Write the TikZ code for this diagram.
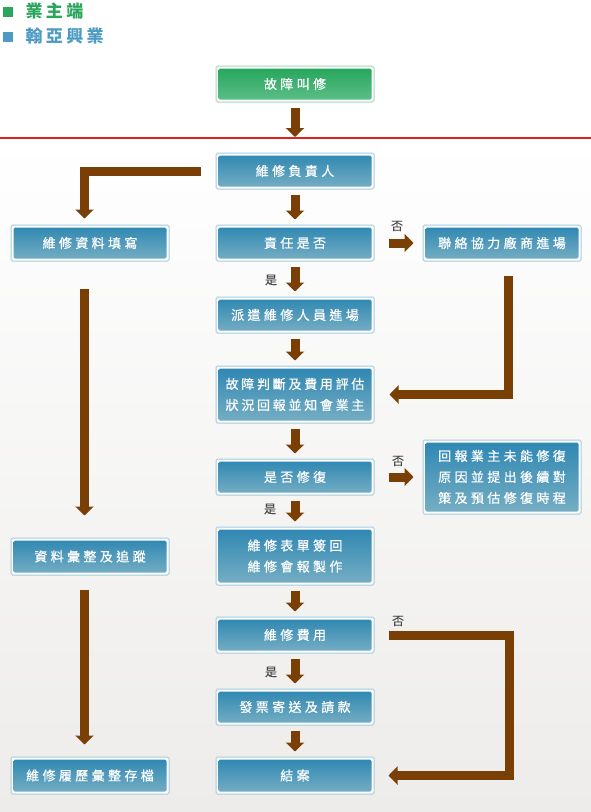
\documentclass[tikz,border=0pt]{standalone}
\usepackage{fontspec}
\newfontfamily\cjk[LetterSpace=26,FakeBold=0.6]{Noto Sans CJK TC}
\newfontfamily\cjknarrow[LetterSpace=21,FakeBold=0.6]{Noto Sans CJK TC}
\newfontfamily\cjkplain[FakeBold=0.3]{Noto Sans CJK TC}
\newfontfamily\cjkhead[LetterSpace=20]{Noto Sans CJK TC}
\usetikzlibrary{arrows.meta}
\definecolor{flowbrown}{HTML}{7A3F04}
\definecolor{ownergreen}{HTML}{2AA65C}
\definecolor{vendorblue}{HTML}{4D9BC2}
\definecolor{boxline}{HTML}{A3CCDE}
\definecolor{greenline}{HTML}{A6D9BA}
\definecolor{bluetop}{HTML}{2C86B2}
\definecolor{bluebot}{HTML}{78AFC4}
\definecolor{greentop}{HTML}{23A55A}
\definecolor{greenbot}{HTML}{5FC08A}
\definecolor{bgbot}{HTML}{EDECEA}
\definecolor{labelgray}{HTML}{4A4A4A}
\definecolor{cutred}{HTML}{E0221F}

\begin{document}
\begin{tikzpicture}[x=1pt, y=-1pt,
  frame/.style 2 args={line width=1pt, fill=white, rounded corners=1.5pt,
    minimum width=158pt, minimum height=36pt, inner sep=0pt, text=white,
    align=center, font=\cjk\fontsize{13}{21}\selectfont,
    path picture={\shade[top color=#1, bottom color=#2]
      ([shift={(2.5pt,-2.5pt)}]path picture bounding box.north west) rectangle
      ([shift={(-2.5pt,2.5pt)}]path picture bounding box.south east);}},
  bluebox/.style={frame={bluetop}{bluebot}, draw=boxline},
  greenbox/.style={frame={greentop}{greenbot}, draw=greenline},
  flow/.style={draw=flowbrown, line width=9pt, -{Triangle[width=18pt,length=9pt]},
    shorten <=5pt, shorten >=5pt},
  yesno/.style={text=labelgray, font=\cjkplain\fontsize{12}{12}\selectfont}]
\useasboundingbox (0,0) rectangle (591,812);
% background and cut line
\fill[white] (0,0) rectangle (591,137);
\shade[top color=white, bottom color=bgbot] (0,137) rectangle (591,812);
\draw[cutred, line width=2pt] (0,137.5) -- (591,137.5);
% legend
\fill[ownergreen] (3,7) rectangle (13,17);
\node[anchor=west, text=ownergreen, font=\cjkhead\bfseries\fontsize{17}{17}\selectfont] (ownerkey) at (22,11) {業主端};
\fill[vendorblue] (3,32) rectangle (13,42);
\node[anchor=west, text=vendorblue, font=\cjkhead\bfseries\fontsize{17}{17}\selectfont] (vendorkey) at (22,36) {翰亞興業};
% main column
\node[greenbox] (call) at (295,84) {故障叫修};
\coordinate (cut) at (295,137);
\node[bluebox] (head) at (295,171) {維修負責人};
\node[bluebox] (duty) at (295,243) {責任是否};
\node[bluebox] (dispatch) at (295,315) {派遣維修人員進場};
\node[bluebox, minimum height=57pt, font=\cjknarrow\fontsize{13}{21}\selectfont] (diag) at (295,394.5) {故障判斷及費用評估\\狀況回報並知會業主};
\node[bluebox] (fix) at (295,477) {是否修復};
\node[bluebox, minimum height=58pt] (sign) at (295,556) {維修表單簽回\\維修會報製作};
\node[bluebox] (cost) at (295,635) {維修費用};
\node[bluebox] (bill) at (295,707) {發票寄送及請款};
\node[bluebox, minimum height=37pt] (close) at (295,775.5) {結案};
% left column
\node[bluebox] (log) at (90,243) {維修資料填寫};
\node[bluebox, minimum height=37pt] (track) at (90,556.5) {資料彙整及追蹤};
\node[bluebox, minimum height=37pt] (archive) at (90,775.5) {維修履歷彙整存檔};
% right column
\node[bluebox] (vendor) at (502,243) {聯絡協力廠商進場};
\node[bluebox, minimum height=74pt] (report) at (502,477) {回報業主未能修復\\原因並提出後續對\\策及預估修復時程};
% main flow
\draw[flow, shorten >=0pt] (call) -- (cut);
\draw[flow] (head) -- (duty);
\draw[flow] (duty) -- (dispatch);
\draw[flow] (dispatch) -- (diag);
\draw[flow] (diag) -- (fix);
\draw[flow] (fix) -- (sign);
\draw[flow] (sign) -- (cost);
\draw[flow] (cost) -- (bill);
\draw[flow] (bill) -- (close);
% branches
\draw[flow, shorten <=15pt, shorten >=6pt] (head.west) -| ([xshift=-5.5pt]log.north);
\draw[flow, shorten <=27pt, shorten >=22pt] ([xshift=-5.5pt]log.south) -- ([xshift=-5.5pt]track.north);
\draw[flow, shorten <=14pt, shorten >=12pt] ([xshift=-5.5pt]track.south) -- ([xshift=-5.5pt]archive.north);
\draw[flow, shorten <=14pt, shorten >=9pt] (duty.east) -- (vendor.west);
\draw[flow, shorten <=14pt, shorten >=15pt] ([xshift=6pt]vendor.south) |- (diag.east);
\draw[flow, shorten <=14pt, shorten >=9pt] (fix.east) -- (report.west);
\draw[flow, shorten <=14pt, shorten >=14pt] (cost.east) -- ++(135,0) |- (close.east);
% yes / no
\node[yesno] (no1) at (397,226) {否};
\node[yesno] (yes1) at (271,280) {是};
\node[yesno] (no2) at (398,461) {否};
\node[yesno] (yes2) at (270,509) {是};
\node[yesno] (no3) at (398,621) {否};
\node[yesno] (yes3) at (271,672) {是};
\end{tikzpicture}
\end{document}
